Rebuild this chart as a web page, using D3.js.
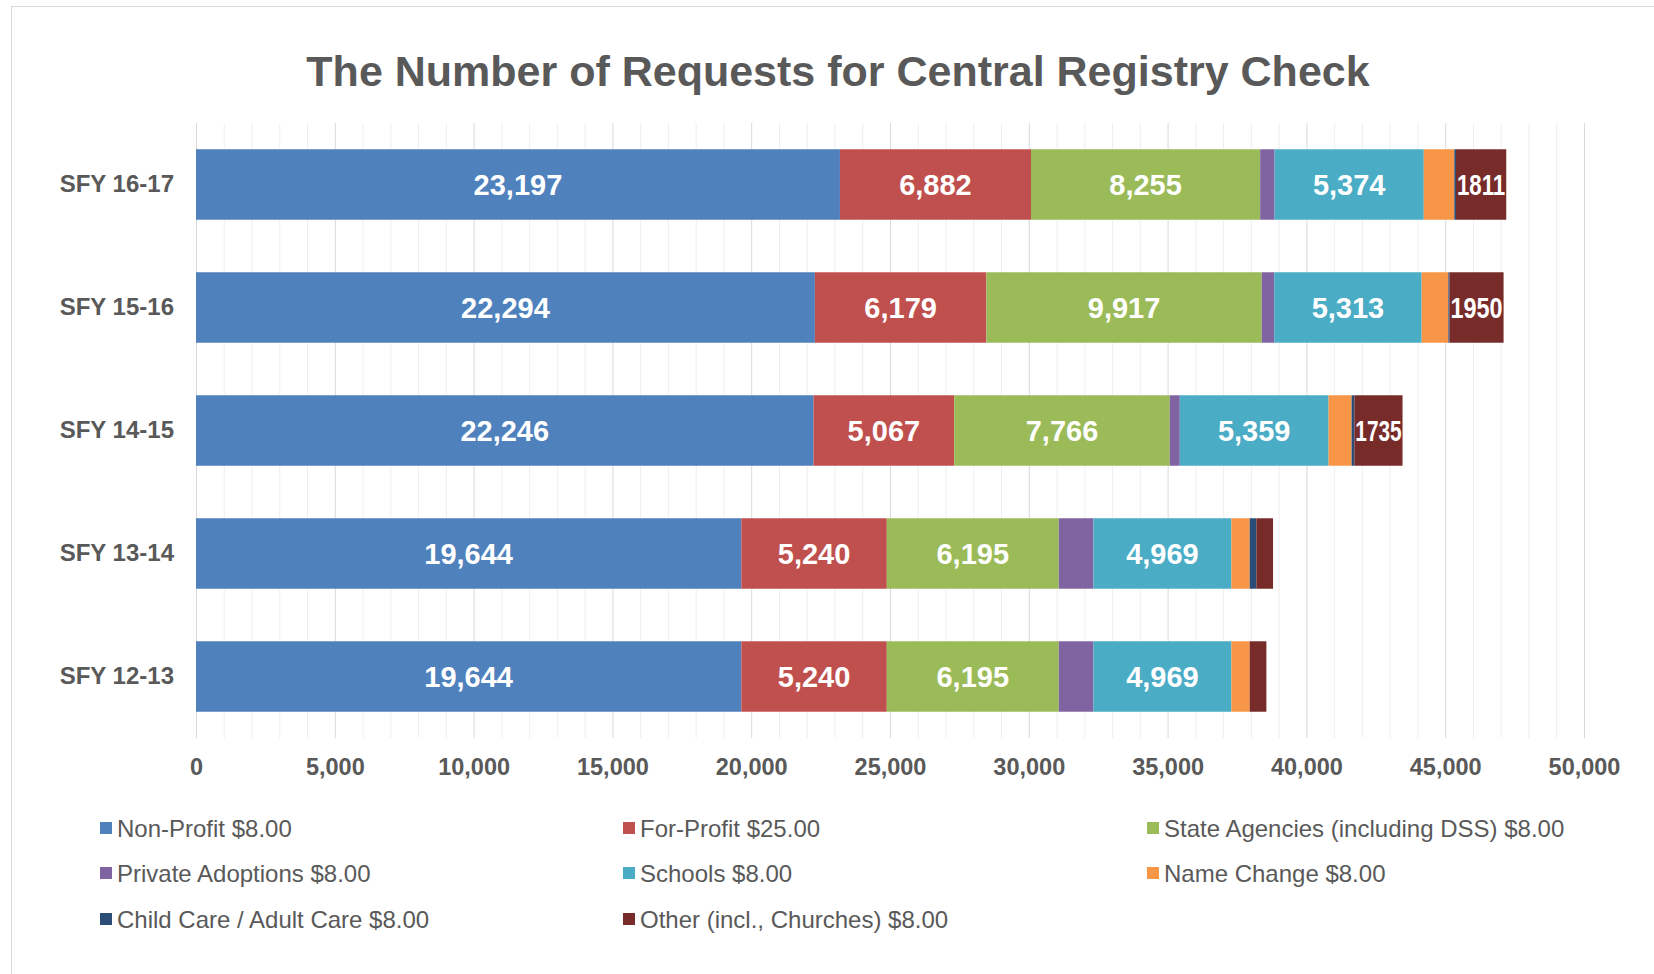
<!DOCTYPE html>
<html>
<head>
<meta charset="utf-8">
<script src="https://cdn.jsdelivr.net/npm/d3@7"></script>
<style>
  body { margin: 0; background: #fff; }
  svg { display: block; font-family: "Liberation Sans", Arial, sans-serif; }
</style>
</head>
<body>
<svg id="chart" width="1654" height="974"></svg>
<script>
// chart values
const categories = ["SFY 16-17", "SFY 15-16", "SFY 14-15", "SFY 13-14", "SFY 12-13"];

const nonProfit = [23197, 22294, 22246, 19644, 19644];
const forProfit = [6882, 6179, 5067, 5240, 5240];
const stateAgencies = [8255, 9917, 7766, 6195, 6195];
const privateAdoptions = [520, 450, 360, 1250, 1250];
const schools = [5374, 5313, 5359, 4969, 4969];
const nameChange = [1100, 960, 830, 660, 660];
const childCare = [60, 40, 100, 240, 0];
const other = [1811, 1950, 1735, 600, 600];

const seriesNames = [
  "Non-Profit $8.00", "For-Profit $25.00", "State Agencies (including DSS) $8.00",
  "Private Adoptions $8.00", "Schools $8.00", "Name Change $8.00",
  "Child Care / Adult Care $8.00", "Other (incl., Churches) $8.00"
];
const seriesValues = [nonProfit, forProfit, stateAgencies, privateAdoptions, schools, nameChange, childCare, other];
const seriesColors = ["#4F81BD", "#C0504D", "#9BBB59", "#8064A2", "#4BACC6", "#F79646", "#2C4D75", "#772C2A"];
// which series carry data labels, and how they are written
const labelled = [true, true, true, false, true, false, false, true];
const labelFormat = [",", ",", ",", ",", ",", ",", ",", "d"];

const xTicks = [0, 5000, 10000, 15000, 20000, 25000, 30000, 35000, 40000, 45000, 50000];

const svg = d3.select("#chart");
const grey = "#595959";

// outer frame
svg.append("rect")
  .attr("x", 11.5).attr("y", 6.5)
  .attr("width", 1700).attr("height", 1000)
  .attr("fill", "none").attr("stroke", "#D9D9D9");

svg.append("text")
  .attr("x", 838).attr("y", 86)
  .attr("text-anchor", "middle")
  .attr("font-size", 43).attr("font-weight", "bold")
  .attr("fill", grey)
  .text("The Number of Requests for Central Registry Check");

const x = d3.scaleLinear().domain([0, 50000]).range([196, 1584]);
const y = d3.scaleBand().domain(categories).range([123, 738]).paddingInner(0.427).paddingOuter(0.2135);

// gridlines: minor every 1000, major every 5000
const grid = svg.append("g");
grid.selectAll("line.minor")
  .data(d3.range(1000, 50001, 1000).filter(v => v % 5000 !== 0))
  .join("line")
  .attr("class", "minor")
  .attr("x1", d => x(d) + 0.5).attr("x2", d => x(d) + 0.5)
  .attr("y1", 123).attr("y2", 738)
  .attr("stroke", "#EFEFEF");
grid.selectAll("line.major")
  .data(xTicks)
  .join("line")
  .attr("class", "major")
  .attr("x1", d => x(d) + 0.5).attr("x2", d => x(d) + 0.5)
  .attr("y1", 123).attr("y2", 738)
  .attr("stroke", "#D9D9D9");

// x axis labels
const xAxis = svg.append("g")
  .attr("transform", "translate(0,775)")
  .call(d3.axisBottom(x).tickValues(xTicks).tickFormat(d3.format(",")).tickSize(0));
xAxis.select(".domain").remove();
xAxis.selectAll("text")
  .attr("dy", 0).attr("y", 0)
  .attr("font-size", 23.5).attr("font-weight", "bold")
  .attr("font-family", "Liberation Sans, Arial, sans-serif")
  .attr("fill", grey);

// category labels
const yAxis = svg.append("g")
  .attr("transform", "translate(174,0)")
  .call(d3.axisLeft(y).tickSize(0).tickPadding(0));
yAxis.select(".domain").remove();
yAxis.selectAll("text")
  .attr("font-size", 24).attr("font-weight", "bold")
  .attr("font-family", "Liberation Sans, Arial, sans-serif")
  .attr("fill", grey);

// stacked bars
const rows = categories.map((c, i) => {
  const r = { cat: c };
  seriesNames.forEach((s, k) => { r[s] = seriesValues[k][i]; });
  return r;
});
const stacked = d3.stack().keys(seriesNames)(rows);

const layers = svg.append("g").selectAll("g")
  .data(stacked)
  .join("g")
  .attr("fill", (d, k) => seriesColors[k]);

layers.selectAll("rect")
  .data(d => d)
  .join("rect")
  .attr("x", d => x(d[0]))
  .attr("y", d => y(d.data.cat))
  .attr("width", d => x(d[1]) - x(d[0]))
  .attr("height", y.bandwidth());

// data labels
stacked.forEach((layer, k) => {
  if (!labelled[k]) return;
  const fmt = d3.format(labelFormat[k]);
  layer.forEach(d => {
    const w = x(d[1]) - x(d[0]);
    if (w < 30) return;
    const t = svg.append("text")
      .attr("x", (x(d[0]) + x(d[1])) / 2)
      .attr("y", y(d.data.cat) + y.bandwidth() / 2 + 10)
      .attr("text-anchor", "middle")
      .attr("font-size", 29).attr("font-weight", "bold")
      .attr("fill", "#fff")
      .text(fmt(d[1] - d[0]));
    const natural = t.node().getComputedTextLength();
    if (natural > w - 2) {
      t.attr("textLength", w - 2).attr("lengthAdjust", "spacingAndGlyphs");
    }
  });
});

// legend, three columns
const legendX = [100, 623, 1147];
const legendY = [828, 873, 919];
const legend = svg.append("g").selectAll("g")
  .data(seriesNames)
  .join("g")
  .attr("transform", (d, i) => `translate(${legendX[i % 3]},${legendY[Math.floor(i / 3)]})`);
legend.append("rect")
  .attr("x", 0).attr("y", -6)
  .attr("width", 12).attr("height", 12)
  .attr("fill", (d, i) => seriesColors[i]);
legend.append("text")
  .attr("x", 17).attr("y", 8.5)
  .attr("font-size", 24)
  .attr("fill", grey)
  .text(d => d);
</script>
</body>
</html>
